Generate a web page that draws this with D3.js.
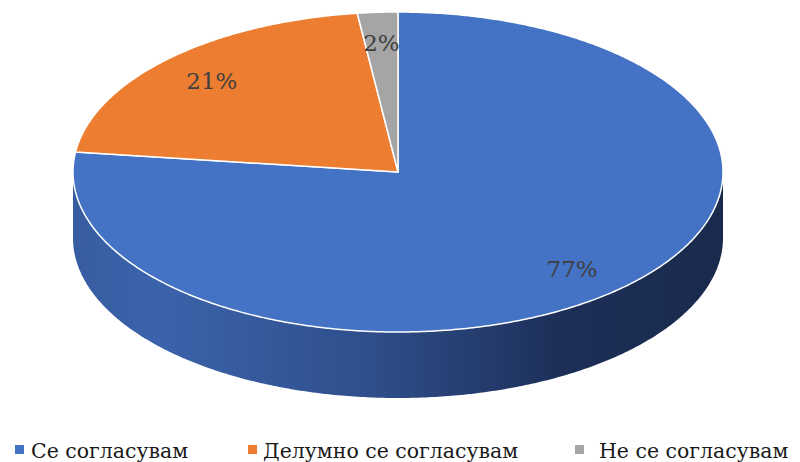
<!DOCTYPE html>
<html>
<head>
<meta charset="utf-8">
<script src="https://cdn.jsdelivr.net/npm/d3@7"></script>
<style>
  body { margin: 0; background: #fff; }
  text { font-family: "DejaVu Serif", serif; }
</style>
</head>
<body>
<script>
// chart data
var categories = ["Се согласувам", "Делумно се согласувам", "Не се согласувам"];
var values = [77, 21, 2];
var labels = ["77%", "21%", "2%"];
var colors = ["#4472C4", "#ED7D31", "#A5A5A5"];

var w = 800, h = 462;
var cx = 398, cy = 172, rx = 325, ry = 160, depth = 66;

var svg = d3.select("body").append("svg")
    .attr("width", w)
    .attr("height", h);

// gradient for the blue side wall
var defs = svg.append("defs");
var grad = defs.append("linearGradient")
    .attr("id", "sideGrad")
    .attr("gradientUnits", "userSpaceOnUse")
    .attr("x1", cx - rx).attr("x2", cx + rx)
    .attr("y1", 0).attr("y2", 0);
grad.append("stop").attr("offset", "0").attr("stop-color", "#375ca0");
grad.append("stop").attr("offset", "0.12").attr("stop-color", "#3b63ab");
grad.append("stop").attr("offset", "0.45").attr("stop-color", "#2f4f8c");
grad.append("stop").attr("offset", "0.75").attr("stop-color", "#1d2f58");
grad.append("stop").attr("offset", "1").attr("stop-color", "#1a2a4d");

var pie = d3.pie().sort(null);
var arcs = pie(values);

// point on the ellipse, angle clockwise from 12 o'clock
function pt(a, k, dy) {
    return [cx + rx * k * Math.sin(a), cy - ry * k * Math.cos(a) + (dy || 0)];
}

function topPath(d) {
    var p = d3.path();
    p.moveTo(cx, cy);
    var n = Math.max(2, Math.ceil((d.endAngle - d.startAngle) / 0.01));
    for (var i = 0; i <= n; i++) {
        var a = d.startAngle + (d.endAngle - d.startAngle) * i / n;
        var q = pt(a, 1);
        p.lineTo(q[0], q[1]);
    }
    p.closePath();
    return p.toString();
}

// outer wall only where it faces us (between 90 and 270 degrees)
function sidePath(d) {
    var s = Math.max(d.startAngle, Math.PI / 2);
    var e = Math.min(d.endAngle, Math.PI * 1.5);
    if (e <= s) return null;
    var n = Math.ceil((e - s) / 0.01), i, a, q;
    var p = d3.path();
    q = pt(s, 1);
    p.moveTo(q[0], q[1]);
    for (i = 1; i <= n; i++) {
        a = s + (e - s) * i / n;
        q = pt(a, 1);
        p.lineTo(q[0], q[1]);
    }
    for (i = n; i >= 0; i--) {
        a = s + (e - s) * i / n;
        q = pt(a, 1, depth);
        p.lineTo(q[0], q[1]);
    }
    p.closePath();
    return p.toString();
}

svg.append("g").selectAll("path")
    .data(arcs.filter(function(d) { return sidePath(d); }))
    .enter()
    .append("path")
    .attr("d", sidePath)
    .attr("fill", "url(#sideGrad)");

svg.append("g").selectAll("path")
    .data(arcs)
    .enter()
    .append("path")
    .attr("d", topPath)
    .attr("fill", function(d, i) { return colors[i]; })
    .attr("stroke", "#fff")
    .attr("stroke-width", 1.5)
    .attr("stroke-linejoin", "round");

// percentage labels
svg.append("g").selectAll("text")
    .data(arcs)
    .enter()
    .append("text")
    .attr("x", function(d) { return pt((d.startAngle + d.endAngle) / 2, 0.81)[0]; })
    .attr("y", function(d) { return pt((d.startAngle + d.endAngle) / 2, 0.81)[1]; })
    .attr("dy", "0.36em")
    .attr("text-anchor", "middle")
    .attr("font-size", 23)
    .attr("fill", "#404040")
    .text(function(d, i) { return labels[i]; });

// legend
var swatchX = [15, 248, 575];
var textX = [31, 263, 599];
var legend = svg.append("g");

legend.selectAll("rect")
    .data(categories)
    .enter()
    .append("rect")
    .attr("x", function(d, i) { return swatchX[i]; })
    .attr("y", 445)
    .attr("width", 9).attr("height", 9)
    .attr("fill", function(d, i) { return colors[i]; });

legend.selectAll("text")
    .data(categories)
    .enter()
    .append("text")
    .attr("x", function(d, i) { return textX[i]; })
    .attr("y", 458)
    .attr("font-size", 21)
    .attr("fill", "#1a1a1a")
    .text(function(d) { return d; })
    .each(function() {
        // narrow DejaVu a little, closer to the Times look
        var len = this.getComputedTextLength();
        d3.select(this)
            .attr("textLength", len * 0.975)
            .attr("lengthAdjust", "spacingAndGlyphs");
    });
</script>
</body>
</html>
